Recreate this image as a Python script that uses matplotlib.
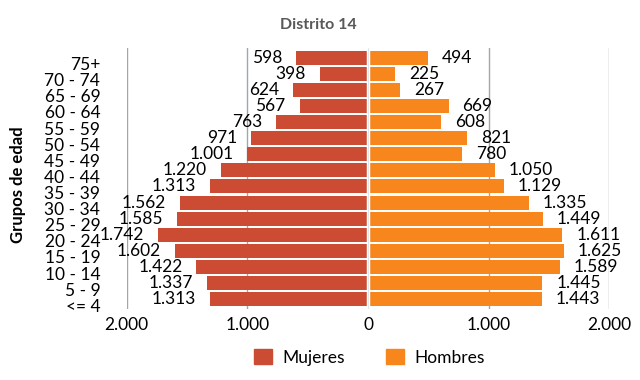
import matplotlib
matplotlib.use('Agg')
import matplotlib.pyplot as plt
from matplotlib.patches import Patch
from matplotlib.transforms import ScaledTranslation

plt.rcParams['font.family'] = ['Lato', 'DejaVu Sans']

# grupos de edad, de abajo hacia arriba
ages = ['<= 4', '5 - 9', '10 - 14', '15 - 19', '20 - 24', '25 - 29', '30 - 34', '35 - 39',
        '40 - 44', '45 - 49', '50 - 54', '55 - 59', '60 - 64', '65 - 69', '70 - 74', '75+']
mujeres = [1313, 1337, 1422, 1602, 1742, 1585, 1562, 1313, 1220, 1001, 971, 763, 567, 624, 398, 598]
hombres = [1443, 1445, 1589, 1625, 1611, 1449, 1335, 1129, 1050, 780, 821, 608, 669, 267, 225, 494]
xticks = [-2000, -1000, 0, 1000, 2000]

c_muj = '#CB4C33'
c_hom = '#F7861C'


def fmt(v):
    return '{:,}'.format(int(abs(v))).replace(',', '.')


fig = plt.figure(figsize=(6.4, 3.8), dpi=100)
ax = fig.add_axes([0.198, 0.187, 0.754, 0.687])

y = list(range(len(ages)))
ax.barh(y, [-v for v in mujeres], height=0.87, color=c_muj, zorder=2)
ax.barh(y, hombres, height=0.87, color=c_hom, zorder=2)

# separacion blanca en el eje central
ax.axvline(0, color='white', lw=2.5, zorder=3)
ax.axvline(0, color='#D5E3EF', lw=0.6, zorder=4)

for yi, m, h in zip(y, mujeres, hombres):
    ax.annotate(fmt(m), (-m, yi), xytext=(-10, 0), textcoords='offset points',
                ha='right', va='center', fontsize=12.5, annotation_clip=False)
    ax.annotate(fmt(h), (h, yi), xytext=(10, 0), textcoords='offset points',
                ha='left', va='center', fontsize=12.5, annotation_clip=False)

ax.set_xlim(-2000, 2000)
ax.set_ylim(-0.6, 15.6)
ax.set_xticks(xticks)
ax.set_xticklabels([fmt(t) for t in xticks], fontsize=12.5)
ax.set_yticks(y)
ax.set_yticklabels(ages, fontsize=12.5)
ax.tick_params(axis='both', length=0)
ax.tick_params(axis='y', pad=19)
ax.tick_params(axis='x', pad=6)
off = ScaledTranslation(0, -6 / 100, fig.dpi_scale_trans)
for lab in ax.get_yticklabels():
    lab.set_transform(lab.get_transform() + off)

for t in xticks:
    if t != 0:
        ax.axvline(t, color='#9DA7B0', lw=1, zorder=1)
for s in ax.spines.values():
    s.set_visible(False)

fig.text(0.498, 0.934, 'Distrito 14', ha='center', va='center', fontsize=11.5,
         fontweight='bold', color='#595959')
fig.text(0.028, 0.513, 'Grupos de edad', rotation=90, ha='center', va='center',
         fontsize=12, fontweight='bold')

handles = [Patch(color=c_muj, label='Mujeres'), Patch(color=c_hom, label='Hombres')]
fig.legend(handles=handles, loc='center', bbox_to_anchor=(0.577, 0.06), ncol=2,
           frameon=False, fontsize=12.5, handlelength=1.0, handleheight=1.0,
           handletextpad=0.6, columnspacing=2.4)

fig.savefig('out.png', dpi=100)
